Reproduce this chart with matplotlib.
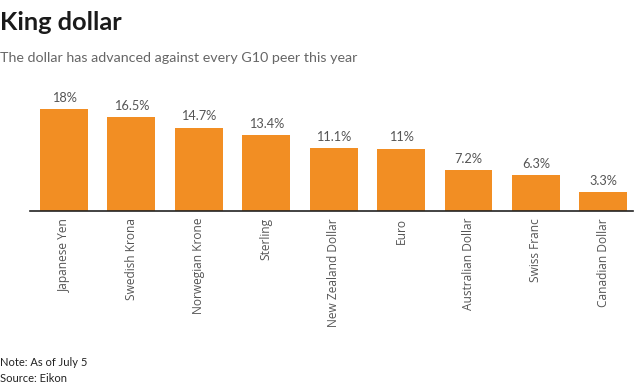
import matplotlib.pyplot as plt

# data
currencies = ['Japanese Yen', 'Swedish Krona', 'Norwegian Krone', 'Sterling',
              'New Zealand Dollar', 'Euro', 'Australian Dollar', 'Swiss Franc',
              'Canadian Dollar']
gains = [18, 16.5, 14.7, 13.4, 11.1, 11, 7.2, 6.3, 3.3]
bar_labels = ['18%', '16.5%', '14.7%', '13.4%', '11.1%', '11%', '7.2%', '6.3%', '3.3%']

W, H = 640, 388
fig = plt.figure(figsize=(W / 100, H / 100), dpi=100)

# axes placed in pixel terms
left, right, top, bottom = 30, 633, 85, 211
ax = fig.add_axes([left / W, 1 - bottom / H, (right - left) / W, (bottom - top) / H])

x = range(len(currencies))
ax.bar(x, gains, width=0.71, color='#f28e23', zorder=2)
for i, (v, lab) in enumerate(zip(gains, bar_labels)):
    ax.text(i, v + 0.9, lab, ha='center', va='bottom', fontsize=9.2,
            color='#555555', family='Lato')

ax.set_xlim(-0.504, 8.44)
ax.set_ylim(0, 22.2)
ax.set_yticks([])
ax.set_xticks(list(x))
ax.set_xticklabels(currencies, rotation=90, fontsize=8.6, color='#555555',
                   family='Open Sans', va='top')
ax.tick_params(axis='x', length=0, pad=5)
for s in ['top', 'right', 'left']:
    ax.spines[s].set_visible(False)
ax.spines['bottom'].set_color('#222222')
ax.spines['bottom'].set_linewidth(1.2)

fig.text(0.0, 1 - 22 / H, 'King dollar', fontsize=18.3, fontweight='bold',
         color='#1a1a1a', family='Lato', va='center', ha='left')
fig.text(0.0, 1 - 58 / H, 'The dollar has advanced against every G10 peer this year',
         fontsize=10.3, color='#666666', family='Lato', va='center', ha='left')
fig.text(0.0, 1 - 363 / H, 'Note: As of July 5', fontsize=8, color='#222222',
         family='Lato', va='center', ha='left')
fig.text(0.0, 1 - 379 / H, 'Source: Eikon', fontsize=8, color='#222222',
         family='Lato', va='center', ha='left')

fig.savefig('out.png', dpi=100, facecolor='white')
